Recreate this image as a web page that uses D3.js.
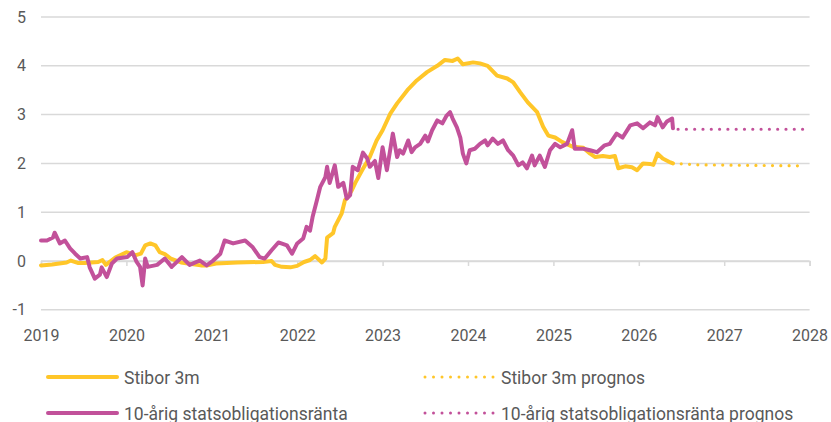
<!DOCTYPE html>
<html><head><meta charset="utf-8">
<script src="https://cdn.jsdelivr.net/npm/d3@7"></script>
<style>
body{margin:0;background:#fff;}
text{font-family:Roboto,"Noto Sans",sans-serif;fill:#595959;}
</style></head>
<body><svg id="c" width="831" height="422"></svg>
<script>
const yTicks=[-1,0,1,2,3,4,5];
const xTicks=[2019,2020,2021,2022,2023,2024,2025,2026,2027,2028];
const seriesNames=["Stibor 3m","10-årig statsobligationsränta","Stibor 3m prognos","10-årig statsobligationsränta prognos"];
const stibor=[[2019.00,-0.09],[2019.13,-0.07],[2019.30,-0.03],[2019.35,0.01],[2019.43,-0.04],[2019.51,-0.04],[2019.67,-0.02],[2019.72,0.02],[2019.76,-0.08],[2019.87,0.07],[2020.00,0.18],[2020.11,0.12],[2020.17,0.15],[2020.22,0.32],[2020.28,0.36],[2020.34,0.32],[2020.39,0.18],[2020.45,0.14],[2020.52,0.05],[2020.64,-0.03],[2020.72,-0.05],[2020.87,-0.09],[2020.95,-0.09],[2021.05,-0.05],[2021.3,-0.03],[2021.6,-0.02],[2021.7,0.0],[2021.74,-0.08],[2021.82,-0.12],[2021.92,-0.13],[2022.0,-0.10],[2022.08,-0.02],[2022.15,0.02],[2022.21,0.1],[2022.29,-0.03],[2022.33,0.05],[2022.35,0.48],[2022.42,0.57],[2022.44,0.7],[2022.52,0.97],[2022.56,1.25],[2022.58,1.28],[2022.64,1.45],[2022.68,1.6],[2022.76,1.86],[2022.85,2.13],[2022.93,2.47],[2023.00,2.68],[2023.09,3.02],[2023.17,3.23],[2023.29,3.5],[2023.40,3.7],[2023.52,3.87],[2023.64,4.0],[2023.73,4.12],[2023.82,4.1],[2023.88,4.15],[2023.94,4.03],[2024.06,4.07],[2024.14,4.05],[2024.23,4.0],[2024.34,3.8],[2024.46,3.74],[2024.53,3.66],[2024.61,3.46],[2024.70,3.25],[2024.81,3.05],[2024.88,2.75],[2024.94,2.57],[2025.02,2.53],[2025.10,2.44],[2025.23,2.34],[2025.35,2.32],[2025.43,2.2],[2025.49,2.13],[2025.58,2.15],[2025.66,2.13],[2025.72,2.15],[2025.76,1.9],[2025.84,1.94],[2025.92,1.92],[2025.98,1.86],[2026.05,2.0],[2026.13,1.99],[2026.17,1.97],[2026.22,2.2],[2026.28,2.1],[2026.37,2.02],[2026.40,2.0]];
const bond=[[2019.00,0.42],[2019.07,0.42],[2019.14,0.48],[2019.16,0.58],[2019.22,0.36],[2019.28,0.42],[2019.34,0.26],[2019.40,0.15],[2019.46,0.05],[2019.54,0.08],[2019.57,-0.13],[2019.63,-0.36],[2019.69,-0.28],[2019.71,-0.13],[2019.77,-0.33],[2019.83,-0.05],[2019.89,0.05],[2020.01,0.08],[2020.07,0.18],[2020.12,-0.02],[2020.16,-0.12],[2020.19,-0.5],[2020.22,0.05],[2020.25,-0.12],[2020.36,-0.08],[2020.45,0.05],[2020.53,-0.12],[2020.65,0.08],[2020.74,-0.08],[2020.86,0.01],[2020.94,-0.09],[2021.01,0.0],[2021.10,0.15],[2021.15,0.42],[2021.25,0.36],[2021.39,0.42],[2021.48,0.28],[2021.56,0.08],[2021.62,0.05],[2021.70,0.22],[2021.78,0.38],[2021.88,0.32],[2021.94,0.15],[2022.00,0.36],[2022.07,0.46],[2022.11,0.7],[2022.15,0.62],[2022.18,0.9],[2022.23,1.24],[2022.27,1.52],[2022.33,1.72],[2022.35,1.93],[2022.38,1.6],[2022.44,1.96],[2022.48,1.52],[2022.54,1.6],[2022.58,1.28],[2022.62,1.35],[2022.65,1.93],[2022.71,1.86],[2022.77,2.22],[2022.82,2.1],[2022.85,1.93],[2022.91,2.05],[2022.95,1.7],[2023.00,2.33],[2023.05,1.86],[2023.12,2.61],[2023.17,2.13],[2023.20,2.27],[2023.24,2.2],[2023.30,2.47],[2023.34,2.23],[2023.38,2.33],[2023.44,2.4],[2023.50,2.57],[2023.53,2.45],[2023.58,2.68],[2023.64,2.88],[2023.70,2.82],[2023.75,2.98],[2023.79,3.05],[2023.82,2.92],[2023.87,2.74],[2023.91,2.53],[2023.94,2.2],[2023.98,2.0],[2024.02,2.27],[2024.08,2.3],[2024.14,2.4],[2024.20,2.47],[2024.23,2.37],[2024.29,2.51],[2024.35,2.4],[2024.41,2.47],[2024.47,2.27],[2024.53,2.16],[2024.59,1.96],[2024.64,2.02],[2024.69,1.9],[2024.75,2.16],[2024.78,1.96],[2024.84,2.16],[2024.90,1.93],[2024.96,2.27],[2025.02,2.4],[2025.08,2.33],[2025.16,2.4],[2025.22,2.68],[2025.25,2.3],[2025.35,2.3],[2025.43,2.27],[2025.51,2.23],[2025.60,2.37],[2025.66,2.4],[2025.74,2.61],[2025.81,2.53],[2025.90,2.78],[2025.98,2.82],[2026.05,2.72],[2026.13,2.84],[2026.19,2.78],[2026.22,2.95],[2026.28,2.74],[2026.33,2.86],[2026.39,2.92],[2026.40,2.72]];
const stiborForecast=[[2026.40,2.0],[2026.70,1.97],[2027.92,1.95]];
const bondForecast=[[2026.46,2.7],[2027.92,2.7]];

const yellow="#FFC629", purple="#C2519A";
const svg=d3.select("#c");
const x=d3.scaleLinear().domain([2019,2028]).range([41,809.6]);
const y=d3.scaleLinear().domain([-1,5]).range([309.8,17]);

svg.append("g").selectAll("line").data(yTicks).join("line")
  .attr("x1",41).attr("x2",809.6).attr("y1",d=>y(d)).attr("y2",d=>y(d))
  .attr("stroke","#d9d9d9").attr("stroke-width",1.5);
svg.append("g").selectAll("text").data(yTicks).join("text")
  .attr("x",26).attr("y",d=>y(d)+5.5).attr("text-anchor","end")
  .style("font-size","16px").text(d=>d);
const xa=svg.append("g").attr("transform",`translate(0,${y(0)})`)
  .call(d3.axisBottom(x).tickValues(xTicks).tickFormat(d3.format("d")).tickSize(5).tickPadding(64));
xa.select(".domain").attr("stroke","#d9d9d9").attr("stroke-width",1.5);
xa.selectAll(".tick line").attr("stroke","#d9d9d9").attr("stroke-width",1.5);
xa.selectAll(".tick text").style("font-size","16px").style("font-family","Roboto").attr("fill","#595959");

const line=d3.line().x(d=>x(d[0])).y(d=>y(d[1]));
svg.append("path").datum(stibor).attr("d",line).attr("fill","none").attr("stroke",yellow).attr("stroke-width",4).attr("stroke-linejoin","round").attr("stroke-linecap","round");
svg.append("path").datum(bond).attr("d",line).attr("fill","none").attr("stroke",purple).attr("stroke-width",4).attr("stroke-linejoin","round").attr("stroke-linecap","round");
svg.append("path").datum(stiborForecast).attr("d",line).attr("fill","none").attr("stroke",yellow).attr("stroke-width",3.2).attr("stroke-linecap","round").attr("stroke-dasharray","0 8.3");
svg.append("path").datum(bondForecast).attr("d",line).attr("fill","none").attr("stroke",purple).attr("stroke-width",3.2).attr("stroke-linecap","round").attr("stroke-dasharray","0 8.3");

const leg=[{n:seriesNames[0],c:yellow,dot:false,x:48,y:377},{n:seriesNames[1],c:purple,dot:false,x:48,y:413},
           {n:seriesNames[2],c:yellow,dot:true,x:425,y:377},{n:seriesNames[3],c:purple,dot:true,x:425,y:413}];
const lg=svg.append("g").selectAll("g").data(leg).join("g").attr("transform",d=>`translate(${d.x},${d.y})`);
lg.append("line").attr("x1",0).attr("x2",69).attr("stroke",d=>d.c)
  .attr("stroke-width",d=>d.dot?3:4).attr("stroke-linecap","round")
  .attr("stroke-dasharray",d=>d.dot?"0 8.5":null);
lg.append("text").attr("x",76).attr("y",6.5).style("font-size","17.5px").text(d=>d.n);
</script></body></html>
